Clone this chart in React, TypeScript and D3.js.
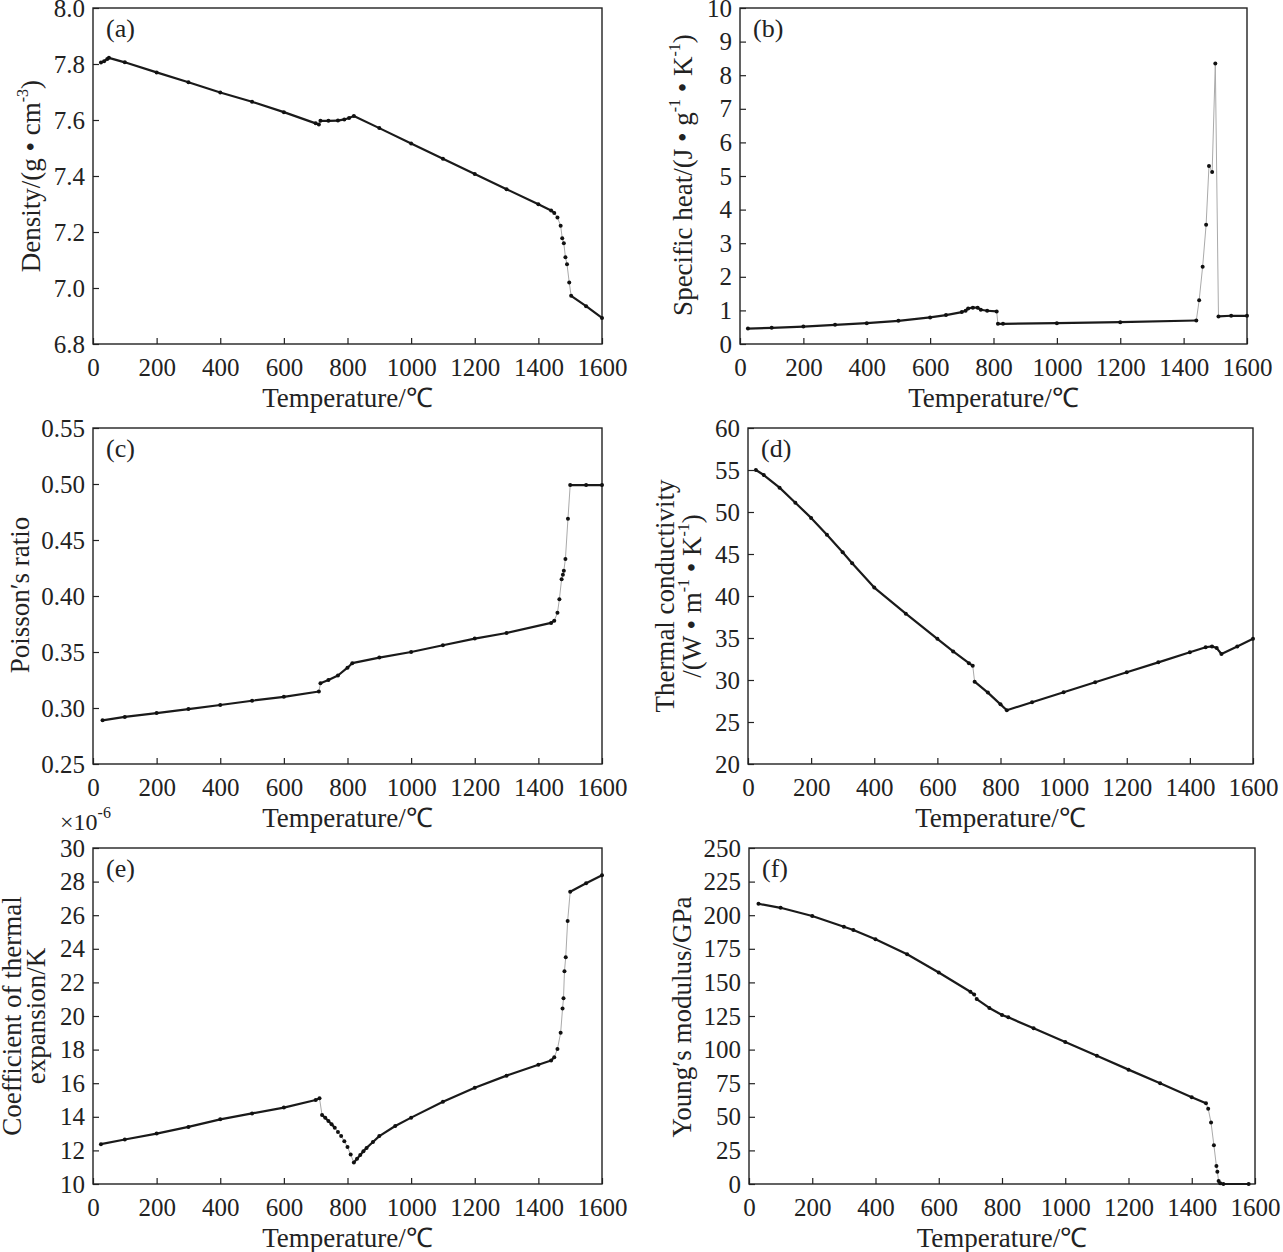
import React, { useEffect, useRef } from "react";
import * as d3 from "d3";

// temperature axis, shared by all six panels
const tempTicks = [0, 200, 400, 600, 800, 1000, 1200, 1400, 1600];

// (a) density, g/cm3
const densityT = [25, 35, 45, 50, 100, 200, 300, 400, 500, 600, 700, 710, 715, 740, 770, 790, 805, 820, 900, 1000, 1100, 1200, 1300, 1400, 1440, 1450, 1460, 1470, 1475, 1480, 1485, 1490, 1497, 1503, 1550, 1600];
const densityV = [7.805, 7.81, 7.818, 7.822, 7.806, 7.77, 7.735, 7.698, 7.665, 7.628, 7.588, 7.584, 7.597, 7.597, 7.598, 7.602, 7.607, 7.614, 7.571, 7.516, 7.462, 7.407, 7.353, 7.299, 7.277, 7.268, 7.252, 7.222, 7.178, 7.16, 7.11, 7.085, 7.02, 6.972, 6.935, 6.893];
const densityTicks = [6.8, 7.0, 7.2, 7.4, 7.6, 7.8, 8.0];

// (b) specific heat, J/(g K)
const heatT = [25, 100, 200, 300, 400, 500, 600, 650, 700, 712, 720, 735, 750, 760, 780, 810, 814, 830, 1000, 1200, 1440, 1449, 1460, 1471, 1480, 1490, 1500, 1510, 1550, 1600];
const heatV = [0.46, 0.48, 0.52, 0.57, 0.62, 0.69, 0.79, 0.86, 0.95, 0.99, 1.06, 1.08, 1.08, 1.02, 0.99, 0.97, 0.6, 0.6, 0.62, 0.65, 0.7, 1.3, 2.3, 3.55, 5.3, 5.12, 8.35, 0.82, 0.84, 0.84];
const heatTicks = [0, 1, 2, 3, 4, 5, 6, 7, 8, 9, 10];

// (c) Poisson's ratio
const poissonT = [30, 100, 200, 300, 400, 500, 600, 710, 715, 740, 770, 800, 815, 900, 1000, 1100, 1200, 1300, 1440, 1450, 1460, 1466, 1473, 1477, 1480, 1485, 1493, 1500, 1550, 1600];
const poissonV = [0.289, 0.292, 0.2955, 0.299, 0.3027, 0.3065, 0.31, 0.3147, 0.322, 0.325, 0.329, 0.336, 0.34, 0.345, 0.35, 0.356, 0.362, 0.367, 0.376, 0.378, 0.385, 0.397, 0.415, 0.419, 0.4226, 0.433, 0.469, 0.499, 0.499, 0.499];
const poissonTicks = [0.25, 0.3, 0.35, 0.4, 0.45, 0.5, 0.55];

// (d) thermal conductivity, W/(m K)
const conductT = [25, 50, 100, 150, 200, 250, 300, 330, 400, 500, 600, 650, 700, 712, 718, 760, 800, 820, 900, 1000, 1100, 1200, 1300, 1400, 1450, 1470, 1485, 1500, 1550, 1600];
const conductV = [55.0, 54.4, 52.9, 51.1, 49.3, 47.3, 45.2, 43.9, 41.0, 37.9, 34.9, 33.4, 32.0, 31.7, 29.8, 28.5, 27.1, 26.4, 27.35, 28.54, 29.73, 30.92, 32.1, 33.3, 33.9, 34.0, 33.8, 33.1, 34.0, 34.9];
const conductTicks = [20, 25, 30, 35, 40, 45, 50, 55, 60];

// (e) coefficient of thermal expansion, x1e-6 /K
const expansionT = [25, 100, 200, 300, 400, 500, 600, 700, 712, 720, 730, 740, 750, 760, 770, 780, 790, 800, 810, 820, 830, 840, 850, 860, 880, 900, 950, 1000, 1100, 1200, 1300, 1400, 1440, 1450, 1460, 1470, 1476, 1479, 1482, 1486, 1492, 1500, 1550, 1600];
const expansionV = [12.37, 12.65, 13.0, 13.4, 13.85, 14.2, 14.55, 15.0, 15.1, 14.1, 13.95, 13.75, 13.55, 13.35, 13.1, 12.85, 12.55, 12.2, 11.75, 11.28, 11.5, 11.72, 11.95, 12.15, 12.5, 12.85, 13.45, 13.95, 14.9, 15.73, 16.45, 17.1, 17.35, 17.55, 18.04, 19.0, 20.45, 21.05, 22.67, 23.5, 25.65, 27.4, 27.9, 28.38];
const expansionTicks = [10, 12, 14, 16, 18, 20, 22, 24, 26, 28, 30];

// (f) Young's modulus, GPa
const youngT = [30, 100, 200, 300, 330, 400, 500, 600, 700, 712, 720, 760, 800, 820, 900, 1000, 1100, 1200, 1300, 1400, 1445, 1452, 1461, 1470, 1478, 1481, 1485, 1490, 1500, 1580];
const youngV = [208.5, 205.5, 199.4, 191.4, 189.0, 182.1, 171.0, 157.4, 143.0, 141.0, 137.6, 131.0, 125.7, 124.0, 115.8, 105.6, 95.4, 85.1, 74.9, 64.6, 60.0, 56.0, 45.7, 28.9, 13.3, 9.1, 2.2, 0.5, 0, 0];
const youngTicks = [0, 25, 50, 75, 100, 125, 150, 175, 200, 225, 250];

type Seg = { t: string; sup?: boolean };
type TitleLine = { x: number; segs: Seg[] };

type Panel = {
  tag: string;
  left: number; right: number; top: number; bottom: number;
  T: number[]; V: number[];
  yTicks: number[]; fmt: string;
  titleCy: number;
  title: TitleLine[];
};

const FONT = "'Liberation Serif', 'Times New Roman', serif";
const INK = "#222";

const panels: Panel[] = [
  {
    tag: "(a)", left: 93, right: 602, top: 8, bottom: 344,
    T: densityT, V: densityV, yTicks: densityTicks, fmt: ".1f", titleCy: 176,
    title: [{ x: 40, segs: [{ t: "Density/(g • cm" }, { t: "-3", sup: true }, { t: ")" }] }],
  },
  {
    tag: "(b)", left: 740, right: 1247, top: 8, bottom: 344,
    T: heatT, V: heatV, yTicks: heatTicks, fmt: "d", titleCy: 175,
    title: [{ x: 692, segs: [{ t: "Specific heat/(J • g" }, { t: "-1", sup: true }, { t: " • K" }, { t: "-1", sup: true }, { t: ")" }] }],
  },
  {
    tag: "(c)", left: 93, right: 602, top: 428, bottom: 764,
    T: poissonT, V: poissonV, yTicks: poissonTicks, fmt: ".2f", titleCy: 595,
    title: [{ x: 29, segs: [{ t: "Poisson′s ratio" }] }],
  },
  {
    tag: "(d)", left: 748, right: 1253, top: 428, bottom: 764,
    T: conductT, V: conductV, yTicks: conductTicks, fmt: "d", titleCy: 596,
    title: [
      { x: 674, segs: [{ t: "Thermal conductivity" }] },
      { x: 701, segs: [{ t: "/(W • m" }, { t: "-1", sup: true }, { t: " • K" }, { t: "-1", sup: true }, { t: ")" }] },
    ],
  },
  {
    tag: "(e)", left: 93, right: 602, top: 848, bottom: 1184,
    T: expansionT, V: expansionV, yTicks: expansionTicks, fmt: "d", titleCy: 1016,
    title: [
      { x: 21, segs: [{ t: "Coefficient of thermal" }] },
      { x: 45, segs: [{ t: "expansion/K" }] },
    ],
  },
  {
    tag: "(f)", left: 749, right: 1255, top: 848, bottom: 1184,
    T: youngT, V: youngV, yTicks: youngTicks, fmt: "d", titleCy: 1017,
    title: [{ x: 691, segs: [{ t: "Young′s modulus/GPa" }] }],
  },
];

function addSegs(text: d3.Selection<SVGTextElement, unknown, null, undefined>, segs: Seg[]) {
  let raised = false;
  segs.forEach(s => {
    const ts = text.append("tspan").text(s.t);
    if (s.sup) {
      ts.attr("font-size", 16).attr("dy", -12);
      raised = true;
    } else if (raised) {
      ts.attr("dy", 12);
      raised = false;
    }
  });
}

const App: React.FC = () => {
  const svgRef = useRef<SVGSVGElement | null>(null);

  useEffect(() => {
    if (!svgRef.current) return;
    const svg = d3.select(svgRef.current);
    svg.selectAll("*").remove();

    panels.forEach(p => {
      const x = d3.scaleLinear().domain([0, 1600]).range([p.left, p.right]);
      const yMin = p.yTicks[0];
      const yMax = p.yTicks[p.yTicks.length - 1];
      const y = d3.scaleLinear().domain([yMin, yMax]).range([p.bottom, p.top]);
      const g = svg.append("g").attr("font-family", FONT).attr("fill", INK);

      // axes with inward ticks
      const ax = g.append("g")
        .attr("transform", `translate(0,${p.bottom})`)
        .call(d3.axisBottom(x).tickValues(tempTicks).tickSizeInner(-6).tickSizeOuter(0).tickPadding(14).tickFormat(d3.format("d") as any));
      const ay = g.append("g")
        .attr("transform", `translate(${p.left},0)`)
        .call(d3.axisLeft(y).tickValues(p.yTicks).tickSizeInner(-6).tickSizeOuter(0).tickPadding(8).tickFormat(d3.format(p.fmt) as any));
      [ax, ay].forEach(a => {
        a.select(".domain").remove();
        a.selectAll("line").attr("stroke", INK).attr("stroke-width", 1.2);
        a.selectAll("text").attr("font-family", FONT).attr("font-size", 25).attr("fill", INK);
      });

      g.append("rect")
        .attr("x", p.left).attr("y", p.top)
        .attr("width", p.right - p.left).attr("height", p.bottom - p.top)
        .attr("fill", "none").attr("stroke", INK).attr("stroke-width", 1.4);

      // data: dense segments dark, steep jumps as thin grey links
      const pts = p.T.map((t, i) => [x(t), y(p.V[i])] as [number, number]);
      const segs = d3.pairs(pts).map(([a, b], i) => ({
        a, b, steep: Math.abs(b[1] - a[1]) / Math.max(p.T[i + 1] - p.T[i], 1) > 0.4,
      }));
      g.append("g").selectAll("line").data(segs.filter(s => s.steep)).join("line")
        .attr("x1", s => s.a[0]).attr("y1", s => s.a[1]).attr("x2", s => s.b[0]).attr("y2", s => s.b[1])
        .attr("stroke", "#aaa").attr("stroke-width", 1);
      g.append("g").selectAll("line").data(segs.filter(s => !s.steep)).join("line")
        .attr("x1", s => s.a[0]).attr("y1", s => s.a[1]).attr("x2", s => s.b[0]).attr("y2", s => s.b[1])
        .attr("stroke", "#1a1a1a").attr("stroke-width", 2.2).attr("stroke-linecap", "round");
      g.append("g").selectAll("circle").data(pts).join("circle")
        .attr("cx", d => d[0]).attr("cy", d => d[1]).attr("r", 2).attr("fill", "#111");

      // panel tag
      g.append("text").attr("x", p.left + 13).attr("y", p.top + 29).attr("font-size", 26).text(p.tag);

      // x title
      g.append("text")
        .attr("x", (p.left + p.right) / 2).attr("y", p.bottom + 63)
        .attr("text-anchor", "middle").attr("font-size", 27)
        .text("Temperature/℃");

      // y title
      p.title.forEach(line => {
        const t = g.append("text")
          .attr("transform", `translate(${line.x},${p.titleCy}) rotate(-90)`)
          .attr("text-anchor", "middle").attr("font-size", 27);
        addSegs(t, line.segs);
      });
    });

    // exponent note above panel (e)
    const note = svg.append("text").attr("x", 60).attr("y", 830)
      .attr("font-family", FONT).attr("font-size", 24).attr("fill", INK);
    addSegs(note, [{ t: "×10" }, { t: "-6", sup: true }]);
  }, []);

  return (
    <svg
      ref={svgRef}
      width={1283}
      height={1252}
      style={{ position: "absolute", left: 0, top: 0, background: "#fff" }}
    />
  );
};

export default App;
